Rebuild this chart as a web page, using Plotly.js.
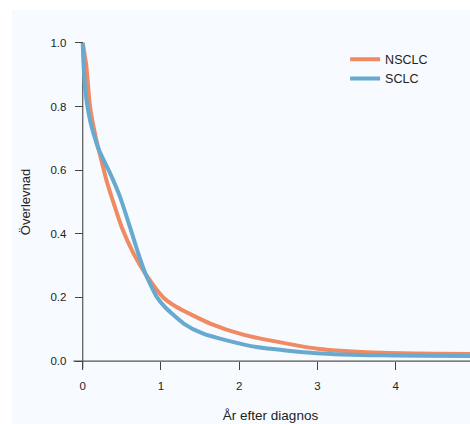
<!DOCTYPE html>
<html>
<head>
<meta charset="utf-8">
<script src="https://cdn.plot.ly/plotly-3.0.1.min.js"></script>
<style>
html,body{margin:0;padding:0;background:#ffffff;}
#chart{position:absolute;left:12px;top:10px;width:458px;height:414px;}
</style>
</head>
<body>
<div id="chart"></div>
<script>
// Survival (Överlevnad) vs years after diagnosis
const nsclcYears = [0, 0.02, 0.045, 0.093, 0.16, 0.2, 0.255, 0.307, 0.39, 0.50, 0.65, 0.80, 1.03, 1.2, 1.63, 2.05, 2.39, 3.0, 3.84, 4.95];
const nsclcSurv  = [1.0, 0.97, 0.93, 0.80, 0.71, 0.668, 0.615, 0.565, 0.50, 0.42, 0.338, 0.275, 0.20, 0.17, 0.118, 0.083, 0.065, 0.039, 0.026, 0.022];
const sclcYears  = [0, 0.01, 0.03, 0.06, 0.1, 0.157, 0.2, 0.28, 0.35, 0.477, 0.605, 0.71, 0.80, 0.95, 1.05, 1.29, 1.54, 1.84, 2.22, 2.99, 3.84, 4.95];
const sclcSurv   = [1.0, 0.935, 0.86, 0.80, 0.75, 0.70, 0.668, 0.625, 0.59, 0.516, 0.42, 0.338, 0.275, 0.20, 0.17, 0.118, 0.086, 0.065, 0.044, 0.025, 0.018, 0.016];
const seriesNames = ['NSCLC', 'SCLC'];
const xTicks = [0, 1, 2, 3, 4];
const yTicks = [0.0, 0.2, 0.4, 0.6, 0.8, 1.0];
const yTickText = ['0.0', '0.2', '0.4', '0.6', '0.8', '1.0'];

const xRange = [-0.15, 4.95];
const yRange = [-0.05, 1.05];
const font = 'Liberation Sans, Arial, sans-serif';

const traces = [
  {x: nsclcYears, y: nsclcSurv, name: seriesNames[0], mode: 'lines', line: {color: '#ef8a62', width: 4, shape: 'spline', smoothing: 0.6}},
  {x: sclcYears, y: sclcSurv, name: seriesNames[1], mode: 'lines', line: {color: '#67a9cf', width: 4, shape: 'spline', smoothing: 0.6}}
];

const layout = {
  width: 458, height: 414,
  margin: {l: 59, r: 0, t: 17, b: 47},
  paper_bgcolor: '#f7fbff',
  plot_bgcolor: '#f7fbff',
  font: {family: font, color: '#222'},
  showlegend: true,
  legend: {x: 0.687, y: 0.95, xanchor: 'left', yanchor: 'top', bgcolor: 'rgba(0,0,0,0)', font: {size: 12.5, color: '#222'}, tracegroupgap: 0},
  xaxis: {
    range: xRange, tickvals: xTicks, ticktext: xTicks.map(String),
    showgrid: false, zeroline: false, showline: false,
    ticks: 'outside', ticklen: 8, tickcolor: '#444', tickwidth: 1,
    anchor: 'free', position: (0 - yRange[0]) / (yRange[1] - yRange[0]),
    tickfont: {size: 11.5, color: '#222'}, ticklabelstandoff: 6,
    title: {text: 'År efter diagnos', font: {size: 13.5, color: '#222'}, standoff: 19},
    automargin: false, fixedrange: true
  },
  yaxis: {
    range: yRange, tickvals: yTicks, ticktext: yTickText,
    showgrid: false, zeroline: false, showline: false,
    ticks: 'outside', ticklen: 8, tickcolor: '#444', tickwidth: 1,
    anchor: 'free', position: (0 - xRange[0]) / (xRange[1] - xRange[0]),
    tickfont: {size: 11.5, color: '#222'}, ticklabelstandoff: 6,
    title: {text: 'Överlevnad', font: {size: 13, color: '#222'}, standoff: 15},
    automargin: false, fixedrange: true
  },
  shapes: [
    {type: 'line', xref: 'x', yref: 'y', x0: 0, x1: 0, y0: -0.023, y1: 1.0, line: {color: '#555', width: 1.2}, layer: 'below'},
    {type: 'line', xref: 'x', yref: 'y', x0: -0.12, x1: 4.95, y0: 0, y1: 0, line: {color: '#555', width: 1.2}, layer: 'below'}
  ]
};

Plotly.newPlot('chart', traces, layout, {staticPlot: true, displayModeBar: false});
</script>
</body>
</html>
